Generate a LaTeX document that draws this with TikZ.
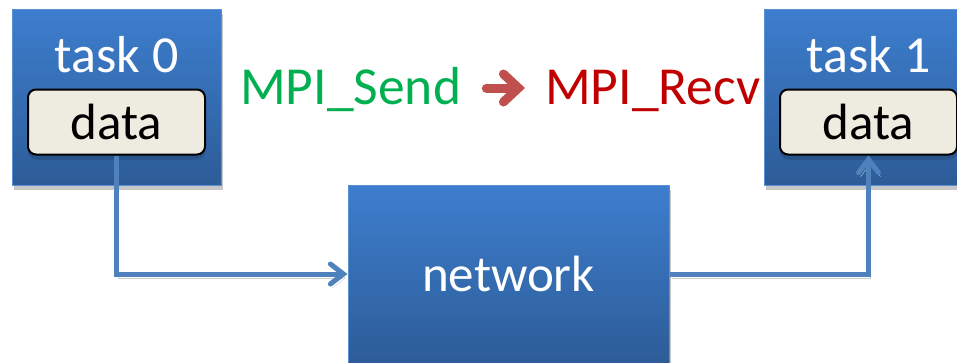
\documentclass[tikz,border=0pt]{standalone}
\usepackage{fontspec}
\setmainfont{Carlito}
\usetikzlibrary{arrows.meta,shadows}
\definecolor{boxtop}{RGB}{61,126,206}
\definecolor{boxbot}{RGB}{45,92,152}
\definecolor{boxedge}{RGB}{90,145,210}
\definecolor{datafill}{RGB}{238,236,225}
\definecolor{linkblue}{RGB}{79,129,189}
\definecolor{sendgreen}{RGB}{0,176,80}
\definecolor{recvred}{RGB}{192,0,0}
\definecolor{arrowred}{RGB}{192,80,77}
\begin{document}
\begin{tikzpicture}[x=1pt,y=-1pt,
  bluebox/.style={draw=boxedge, line width=1pt, top color=boxtop, bottom color=boxbot,
    shading angle=0, inner sep=0pt,
    drop shadow={shadow xshift=2pt, shadow yshift=-5pt, fill=black!22, opacity=1}},
  databox/.style={draw=black, line width=2pt, fill=datafill, rounded corners=8pt,
    minimum width=177pt, minimum height=65pt, inner sep=0pt,
    font=\fontsize{51}{60}\selectfont,
    drop shadow={shadow xshift=0pt, shadow yshift=-5pt, fill=boxbot!80!black, opacity=0.6}},
  tasklabel/.style={anchor=base, text=white, font=\fontsize{52}{60}\selectfont, inner sep=0pt},
  mpilabel/.style={anchor=base west, font=\fontsize{53.5}{62}\selectfont, inner sep=0pt},
  link/.style={draw=linkblue, line width=5pt, -{Straight Barb[length=13pt,width=20pt,line cap=round]},
    preaction={draw=black!20, transform canvas={shift={(2pt,-4pt)}}}},
]
\useasboundingbox (0,0) rectangle (957,362);

% task boxes
\node[bluebox, minimum width=209pt, minimum height=176pt] (task0) at (116.5,97) {};
\node[bluebox, minimum width=209pt, minimum height=176pt] (task1) at (868.5,97) {};
\node[bluebox, minimum width=321pt, minimum height=178pt, text=white,
  font=\fontsize{51}{60}\selectfont] (network) at (508.5,274) {network};

\node[tasklabel] (t0lab) at (116.5,72) {task 0};
\node[tasklabel] (t1lab) at (868.5,72) {task 1};

\node[databox] (data0) at (116.5,122) {data};
\node[databox] (data1) at (868.5,122) {data};

% MPI labels
\node[mpilabel, text=sendgreen] (send) at (240,104) {MPI\_Send};
\node[mpilabel, text=recvred] (recv) at (545,104) {MPI\_Recv};
\draw[draw=arrowred, line width=9pt, line cap=round,
  -{Straight Barb[length=15pt,width=28pt,line cap=round]},
  preaction={draw=black!25, transform canvas={shift={(1pt,-3pt)}}}]
  ([xshift=25pt,yshift=16pt]send.base east) -- ([xshift=-20pt,yshift=16pt]recv.base west);

% links
\draw[link] (data0.south) |- (network.west);
\draw[link] (network.east) -| (data1.south);
\end{tikzpicture}
\end{document}
